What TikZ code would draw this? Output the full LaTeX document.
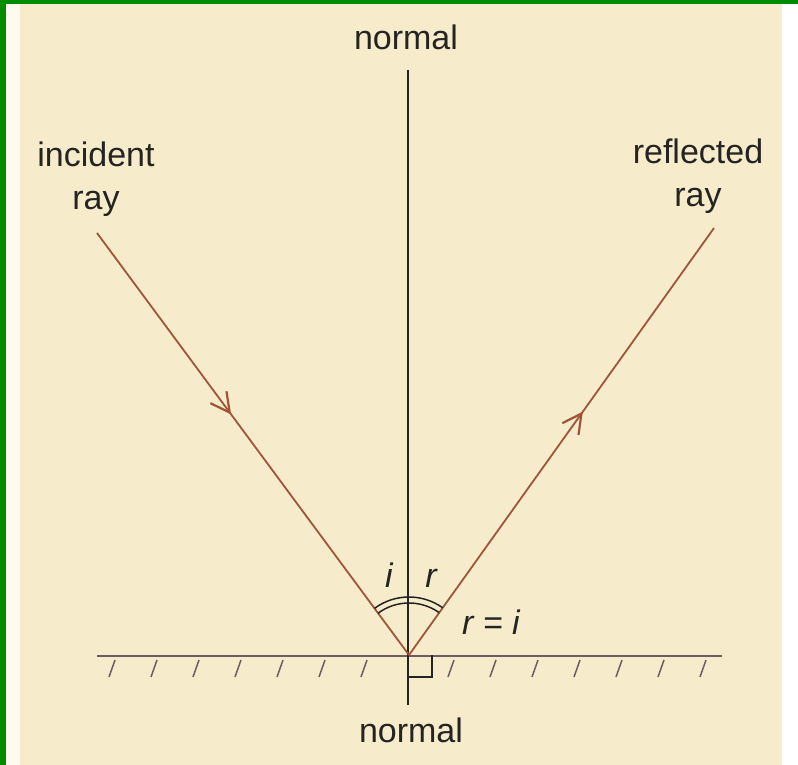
\documentclass[tikz,border=0pt]{standalone}
\usepackage{fontspec}
\setmainfont{Liberation Sans}
\usetikzlibrary{arrows.meta,decorations.markings,calc}

\definecolor{frame}{RGB}{0,140,0}
\definecolor{paper}{RGB}{246,236,203}
\definecolor{margin}{RGB}{253,251,240}
\definecolor{ink}{RGB}{38,36,34}
\definecolor{raycol}{RGB}{160,84,58}
\definecolor{mirror}{RGB}{110,92,100}

\begin{document}
\begin{tikzpicture}[
  x=1pt,y=1pt,
  lbl/.style={font=\fontsize{34}{43}\selectfont,text=ink,inner sep=0pt,align=center},
  ang/.style={font=\fontsize{34}{43}\selectfont\itshape,text=ink,inner sep=0pt},
  ray/.style={draw=raycol,line width=1.8pt},
  mid/.style={postaction={decorate},decoration={markings,
    mark=at position #1 with {\arrow{Straight Barb[length=19pt,width=20pt,line width=2.2pt]}}}},
  hatch/.style={draw=mirror,line width=1.5pt},
  arcl/.style={draw=ink,line width=1.5pt}
]
\useasboundingbox (0,0) rectangle (798,765);
% page
\fill[white] (0,0) rectangle (798,765);
\fill[margin] (6,0) rectangle (20,761);
\fill[paper] (20,0) rectangle (782,761);
\fill[frame] (0,0) rectangle (6,765);
\fill[frame] (0,761) rectangle (798,765);

\coordinate (hit) at (409,110);
\coordinate (src) at (97,532);
\coordinate (dst) at (714,537);
\coordinate (ntop) at (408,695);
\coordinate (nbot) at (408,60);
\coordinate (mirL) at (97,109);
\coordinate (mirR) at (722,109);

% mirror and hatching
\draw[hatch] (mirL) -- (mirR);
\foreach \x in {112,154,...,364,451,493,...,703}
  \draw[hatch] ({\x+3},105) -- ({\x-3},88);

% normal
\draw[ink,line width=1.4pt] (ntop) -- (nbot);
\draw[ink,line width=1.3pt] ($(hit)+(0,-22)$) -| ($(hit)+(23,0)$);

% rays
\draw[ray,mid=0.43] (src) -- (hit);
\draw[ray,mid=0.57] (hit) -- (dst);

% angles
\draw[arcl] ($(hit)+(54.5:52)$) arc[start angle=54.5,end angle=126.5,radius=52];
\draw[arcl] ($(hit)+(54.5:58)$) arc[start angle=54.5,end angle=126.5,radius=58];

% labels
\node[lbl,anchor=base] (lnt) at (406,715) {normal};
\node[lbl,anchor=base] (lnb) at (411,22) {normal};
\node[lbl,anchor=base] (linc) at (96,555) {incident\\ray};
\node[lbl,anchor=base] (lref) at (698,558) {reflected\\ray};
\node[ang,anchor=base] (li) at (389,177) {i};
\node[ang,anchor=base] (lr) at (431,177) {r};
\node[ang,anchor=base] (lri) at (491,130) {r = i};
\end{tikzpicture}
\end{document}
